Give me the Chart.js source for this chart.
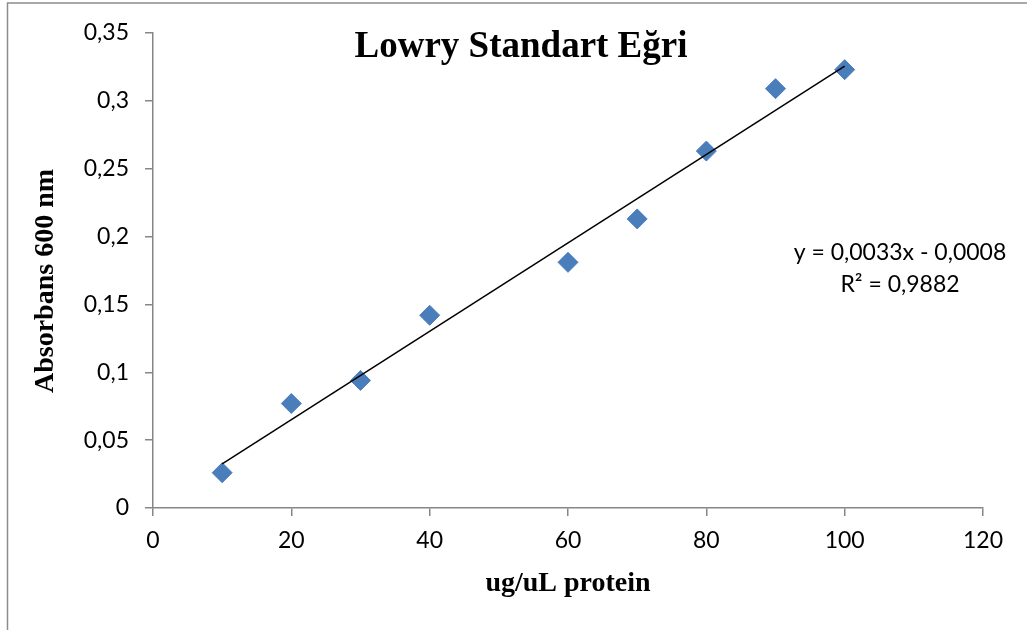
<!DOCTYPE html>
<html>
<head>
<meta charset="utf-8">
<script src="https://cdn.jsdelivr.net/npm/chart.js@4.4.1/dist/chart.umd.min.js"></script>
<style>
  html, body { margin: 0; padding: 0; background: #fff; }
  #chartContainer { position: relative; width: 1027px; height: 630px; }
</style>
</head>
<body>
<div id="chartContainer"><canvas id="lowryChart"></canvas></div>
<script>
// protein concentration (ug/uL) and absorbance at 600 nm
const concentrations = [10, 20, 30, 40, 60, 70, 80, 90, 100];
const absorbances = [0.026, 0.077, 0.094, 0.142, 0.181, 0.213, 0.263, 0.309, 0.323];

const xTicks = [0, 20, 40, 60, 80, 100, 120];
const yTicks = [0, 0.05, 0.1, 0.15, 0.2, 0.25, 0.3, 0.35];

const chartTitle = 'Lowry Standart Eğri';
const xTitle = 'ug/uL protein';
const yTitle = 'Absorbans 600 nm';
const equationText = 'y = 0,0033x - 0,0008';
const rSquaredText = 'R² = 0,9882';

const axisColor = '#868686';
const markerColor = '#4a7ebb';
const tickFont = { family: 'Lato', size: 23 };

// least squares fit for the linear trendline
const fitLine = (xs, ys) => {
  const n = xs.length;
  const mx = xs.reduce((a, b) => a + b, 0) / n;
  const my = ys.reduce((a, b) => a + b, 0) / n;
  let sxy = 0;
  let sxx = 0;
  xs.forEach((x, i) => {
    sxy += (x - mx) * (ys[i] - my);
    sxx += (x - mx) * (x - mx);
  });
  const slope = sxy / sxx;
  return { slope, intercept: my - slope * mx };
};

const fit = fitLine(concentrations, absorbances);
const xMin = Math.min(...concentrations);
const xMax = Math.max(...concentrations);
const trendPoints = [xMin, xMax].map(x => ({ x, y: fit.slope * x + fit.intercept }));

const formatComma = v => String(v).replace('.', ',');

const decorations = {
  id: 'decorations',
  afterDraw(chart) {
    const { ctx, chartArea } = chart;
    ctx.save();

    // outer frame (only top and left edges visible)
    ctx.strokeStyle = '#8c8c8c';
    ctx.lineWidth = 1.5;
    ctx.beginPath();
    ctx.moveTo(7.5, chart.height);
    ctx.lineTo(7.5, 3);
    ctx.lineTo(chart.width, 3);
    ctx.stroke();

    ctx.fillStyle = '#000';
    ctx.textAlign = 'center';
    ctx.textBaseline = 'middle';

    ctx.font = 'bold 37px "Liberation Serif"';
    ctx.fillText(chartTitle, 521, 47);

    ctx.font = 'bold 28px "Liberation Serif"';
    ctx.fillText(xTitle, (chartArea.left + chartArea.right) / 2, 584);

    ctx.save();
    ctx.translate(46, 281);
    ctx.rotate(-Math.PI / 2);
    ctx.fillText(yTitle, 0, 0);
    ctx.restore();

    ctx.font = '23px Lato';
    ctx.fillText(equationText, 900, 253);
    ctx.fillText(rSquaredText, 900, 285);

    ctx.restore();
  },
};

new Chart(document.getElementById('lowryChart').getContext('2d'), {
  type: 'scatter',
  data: {
    datasets: [
      {
        label: 'Absorbans',
        data: concentrations.map((x, i) => ({ x, y: absorbances[i] })),
        pointStyle: 'rectRot',
        pointRadius: 10,
        pointHoverRadius: 10,
        backgroundColor: markerColor,
        borderColor: markerColor,
        borderWidth: 1,
        order: 2,
      },
      {
        label: 'Trend',
        type: 'line',
        data: trendPoints,
        borderColor: '#000',
        borderWidth: 1.5,
        pointRadius: 0,
        fill: false,
        order: 1,
      },
    ],
  },
  options: {
    responsive: true,
    maintainAspectRatio: false,
    animation: false,
    layout: {
      padding: { top: 33, right: 44, left: 0, bottom: 0 },
    },
    plugins: {
      legend: { display: false },
      tooltip: { enabled: false },
    },
    scales: {
      x: {
        type: 'linear',
        min: 0,
        max: 120,
        afterFit: scale => {
          scale.height = 122;
        },
        afterBuildTicks: scale => {
          scale.ticks = xTicks.map(value => ({ value }));
        },
        border: { color: axisColor, width: 1.5 },
        grid: { drawOnChartArea: false, drawTicks: true, tickLength: 8, color: axisColor, lineWidth: 1.5 },
        ticks: { color: '#000', font: tickFont, padding: 11, maxRotation: 0 },
      },
      y: {
        type: 'linear',
        min: 0,
        max: 0.35,
        afterFit: scale => {
          scale.width = 153;
        },
        afterBuildTicks: scale => {
          scale.ticks = yTicks.map(value => ({ value }));
        },
        border: { color: axisColor, width: 1.5 },
        grid: { drawOnChartArea: false, drawTicks: true, tickLength: 8, color: axisColor, lineWidth: 1.5 },
        ticks: {
          color: '#000',
          font: tickFont,
          padding: 16,
          callback: value => formatComma(value),
        },
      },
    },
  },
  plugins: [decorations],
});
</script>
</body>
</html>
